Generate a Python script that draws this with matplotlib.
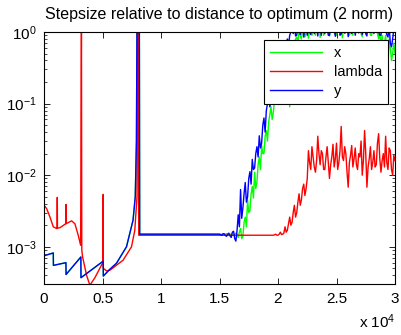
import numpy as np
import matplotlib
matplotlib.use("Agg")
import matplotlib.pyplot as plt

plt.rcParams['font.family'] = ['Liberation Sans', 'DejaVu Sans']
plt.rcParams['mathtext.fontset'] = 'custom'
plt.rcParams['mathtext.rm'] = 'Liberation Sans'
plt.rcParams['mathtext.it'] = 'Liberation Sans'

# ---- data ----
# y (blue) and x (green) coincide before the noisy part
it_early_y = [0, 10, 795, 805, 1875, 1885, 3150, 3160, 5060, 5070, 5600, 6200,
              7050, 7610, 7800, 7900, 7950, 8150, 8180]
val_early_y = [5.4e-3, 7.5e-4, 8.2e-4, 5.5e-4, 6.0e-4, 4.1e-4, 7.2e-4, 3.7e-4,
               6.3e-4, 3.9e-4, 4.8e-4, 5.9e-4, 1.0e-3, 2.35e-3, 5e-3, 3e-2,
               1.5, 1.5, 1.5e-3]

it_early_lam = [0, 10, 230, 510, 795, 1080, 1120, 1135, 1150, 1365, 1860, 1875,
                1890, 2360, 2640, 2925, 3130, 3200, 3230, 3300, 3640, 3920,
                4350, 4770, 5050, 5060, 5070, 5200, 5350, 5630, 6760, 7480,
                7760, 7950, 7990, 8050, 8100]
val_early_lam = [1.1e-2, 3.8e-3, 3.4e-3, 2.6e-3, 1.9e-3, 1.8e-3, 1.8e-3, 4.9e-3,
                 1.82e-3, 1.85e-3, 2.1e-3, 3.9e-3, 2.1e-3, 2.3e-3, 2.1e-3,
                 1.45e-3, 1.05e-3, 1.5, 9e-4, 7.2e-4, 4.0e-4, 2.9e-4, 3.7e-4,
                 5.0e-4, 6.1e-4, 5.4e-3, 5.0e-4, 4.8e-4, 4.6e-4, 4.7e-4, 6.5e-4,
                 1.0e-3, 1.7e-3, 5e-3, 1.5, 1.5, 1.45e-3]

# noisy tail, every 100 iterations
it_noise_xy = np.arange(15000, 30001, 100)
val_noise_y = [
    1.5e-3, 1.47e-3, 1.45e-3, 1.52e-3, 1.52e-3, 1.44e-3, 1.4e-3, 1.5e-3, 1.55e-3, 1.42e-3,
    1.35e-3, 1.6e-3, 1.65e-3, 1.3e-3, 1.2e-3, 1.7e-3, 2.8e-3, 1.9e-3, 6.3e-3, 2.5e-3,
    3.5e-3, 5.5e-3, 7.9e-3, 4.2e-3, 5.0e-3, 9e-3, 0.0112, 7.5e-3, 0.0166, 0.012,
    0.0126, 0.02, 0.025, 0.018, 0.0355, 0.024, 0.028, 0.05, 0.063, 0.04,
    0.079, 0.1, 0.141, 0.09, 0.112, 0.2, 0.25, 0.18, 0.32, 0.4,
    0.28, 0.38, 0.45, 0.5, 0.56, 0.42, 0.5, 0.7, 0.8, 0.65,
    0.9, 1.0, 1.12, 0.95, 1.3, 0.88, 0.9, 1.2, 1.5, 0.92,
    1.1, 1.3, 0.85, 1.2, 1.4, 0.9, 1.2, 1.0, 0.92, 1.3,
    1.6, 0.95, 1.1, 1.2, 0.88, 1.3, 1.3, 0.9, 1.5, 1.1,
    0.95, 1.4, 1.2, 0.9, 0.9, 1.3, 1.4, 1.0, 1.1, 0.87,
    1.3, 1.2, 1.6, 0.9, 0.93, 1.4, 1.2, 0.96, 1.0, 1.3,
    0.86, 1.2, 1.4, 0.95, 1.2, 1.5, 0.9, 1.1, 1.5, 0.97,
    1.1, 1.3, 0.92, 1.2, 1.3, 0.94, 0.88, 1.4, 1.4, 1.0,
    1.2, 1.1, 0.95, 1.3, 1.5, 1.2, 1.0, 0.9, 0.9, 1.3,
    1.3, 1.0, 1.1, 0.92, 0.85, 1.2, 0.7, 0.62, 0.8, 1.1,
    1.2]
val_noise_x = [
    1.5e-3, 1.5e-3, 1.49e-3, 1.5e-3, 1.48e-3, 1.5e-3, 1.52e-3, 1.5e-3, 1.46e-3, 1.5e-3,
    1.5e-3, 1.48e-3, 1.45e-3, 1.5e-3, 1.55e-3, 1.5e-3, 1.35e-3, 1.6e-3, 1.8e-3, 1.3e-3,
    1.4e-3, 2.2e-3, 2.6e-3, 1.9e-3, 4.5e-3, 3.0e-3, 3.2e-3, 5.5e-3, 7e-3, 4.8e-3,
    0.011, 6.5e-3, 8e-3, 0.014, 0.018, 0.012, 0.026, 0.02, 0.02, 0.035,
    0.042, 0.03, 0.055, 0.07, 0.09, 0.06, 0.075, 0.11, 0.14, 0.12,
    0.2, 0.15, 0.17, 0.25, 0.3, 0.22, 0.4, 0.3, 0.35, 0.5,
    0.09, 0.5, 0.7, 0.55, 0.65, 0.8, 0.85, 0.7, 1.1, 0.9,
    0.8, 1.1, 1.3, 0.85, 1.0, 1.2, 0.82, 1.1, 1.4, 0.9,
    1.1, 1.2, 0.9, 1.3, 1.2, 1.5, 0.84, 1.1, 1.3, 0.9,
    1.0, 1.2, 1.4, 0.95, 0.88, 1.1, 1.2, 1.3, 1.5, 0.9,
    0.9, 1.2, 1.1, 1.3, 1.3, 0.83, 1.2, 1.0, 1.2, 1.4,
    1.4, 0.9, 1.0, 1.1, 0.9, 1.4, 1.3, 1.0, 1.1, 1.2,
    1.5, 0.95, 0.86, 1.2, 1.2, 1.0, 1.0, 1.3, 1.4, 0.9,
    0.9, 1.2, 1.3, 1.0, 1.1, 0.95, 0.8, 1.1, 0.6, 0.9,
    0.45, 0.7, 0.9, 0.5, 0.35, 0.8, 0.6, 0.4, 0.5, 0.7,
    0.5]

it_noise_lam = np.arange(19600, 30001, 100)
val_noise_lam = [
    1.45e-3, 1.47e-3, 1.5e-3, 1.45e-3, 1.45e-3, 1.5e-3, 1.6e-3, 1.48e-3, 1.5e-3, 1.55e-3,
    1.9e-3, 1.6e-3, 1.7e-3, 2.1e-3, 2.6e-3, 2.0e-3, 2.2e-3, 3.0e-3, 3.8e-3, 2.6e-3,
    3.0e-3, 4.2e-3, 5.5e-3, 3.8e-3, 4.5e-3, 6.5e-3, 7.5e-3, 5.2e-3, 6.5e-3, 9e-3,
    0.022, 0.015, 0.012, 0.025, 0.018, 0.013, 0.011, 0.016, 0.035, 0.02,
    0.014, 0.022, 0.02, 0.012, 0.012, 0.018, 0.025, 0.015, 0.009, 0.014,
    0.018, 0.027, 0.013, 0.017, 0.028, 0.012, 0.015, 0.022, 0.048, 0.018,
    0.016, 0.025, 0.02, 0.011, 0.0068, 0.015, 0.019, 0.026, 0.013, 0.017,
    0.024, 0.014, 0.012, 0.02, 0.018, 0.03, 0.01, 0.016, 0.042, 0.02,
    0.0068, 0.013, 0.017, 0.025, 0.012, 0.015, 0.022, 0.013, 0.014, 0.028,
    0.038, 0.017, 0.011, 0.016, 0.02, 0.013, 0.035, 0.015, 0.012, 0.024,
    0.022, 0.012, 0.01, 0.019, 0.016]

xticks = [0, 5000, 10000, 15000, 20000, 25000, 30000]
xticklabels = ['0', '0.5', '1', '1.5', '2', '2.5', '3']
yticks = [1e-3, 1e-2, 1e-1, 1e0]
yticklabels = ['10$^{-3}$', '10$^{-2}$', '10$^{-1}$', '10$^{0}$']

it_x = np.concatenate([it_early_y, it_noise_xy])
st_x = np.concatenate([val_early_y, val_noise_x])
it_y = np.concatenate([it_early_y, it_noise_xy])
st_y = np.concatenate([val_early_y, val_noise_y])
it_l = np.concatenate([it_early_lam, it_noise_lam])
st_l = np.concatenate([val_early_lam, val_noise_lam])

fig = plt.figure(figsize=(4.01, 3.35), dpi=100)
ax = fig.add_axes([44 / 401, 1 - 283.5 / 335, 351 / 401, 251.5 / 335])

ax.semilogy(it_x, st_x, color=(0, 1, 0), lw=1.0, label='x')
ax.semilogy(it_l, st_l, color=(1, 0, 0), lw=1.0, label='lambda')
ax.semilogy(it_y, st_y, color=(0, 0, 1), lw=1.0, label='y')

ax.set_xlim(0, 30000)
ax.set_ylim(3.07e-4, 1.0)
ax.set_xticks(xticks)
ax.set_xticklabels(xticklabels)
ax.set_yticks(yticks)
ax.set_yticklabels(yticklabels)
ax.tick_params(which='both', direction='in', top=True, right=True, labelsize=11)
ax.tick_params(which='major', length=4, width=0.6)
ax.tick_params(which='minor', length=2.5, width=0.5)
ax.tick_params(axis='x', pad=6)
ax.tick_params(axis='y', pad=5)
for s in ax.spines.values():
    s.set_linewidth(0.8)

ax.set_title('Stepsize relative to distance to optimum (2 norm)', fontsize=11.5, pad=9)

leg = ax.legend(loc='upper right', bbox_to_anchor=(0.980, 0.968), borderaxespad=0,
                fontsize=10.5, handlelength=3.6, fancybox=False, framealpha=1,
                edgecolor='black', borderpad=0.4, labelspacing=0.35)
leg.get_frame().set_linewidth(0.8)

fig.text(395 / 401, 1 - 328 / 335, 'x 10$^{4}$', ha='right', va='baseline', fontsize=11)

fig.savefig('out.png', dpi=100)
